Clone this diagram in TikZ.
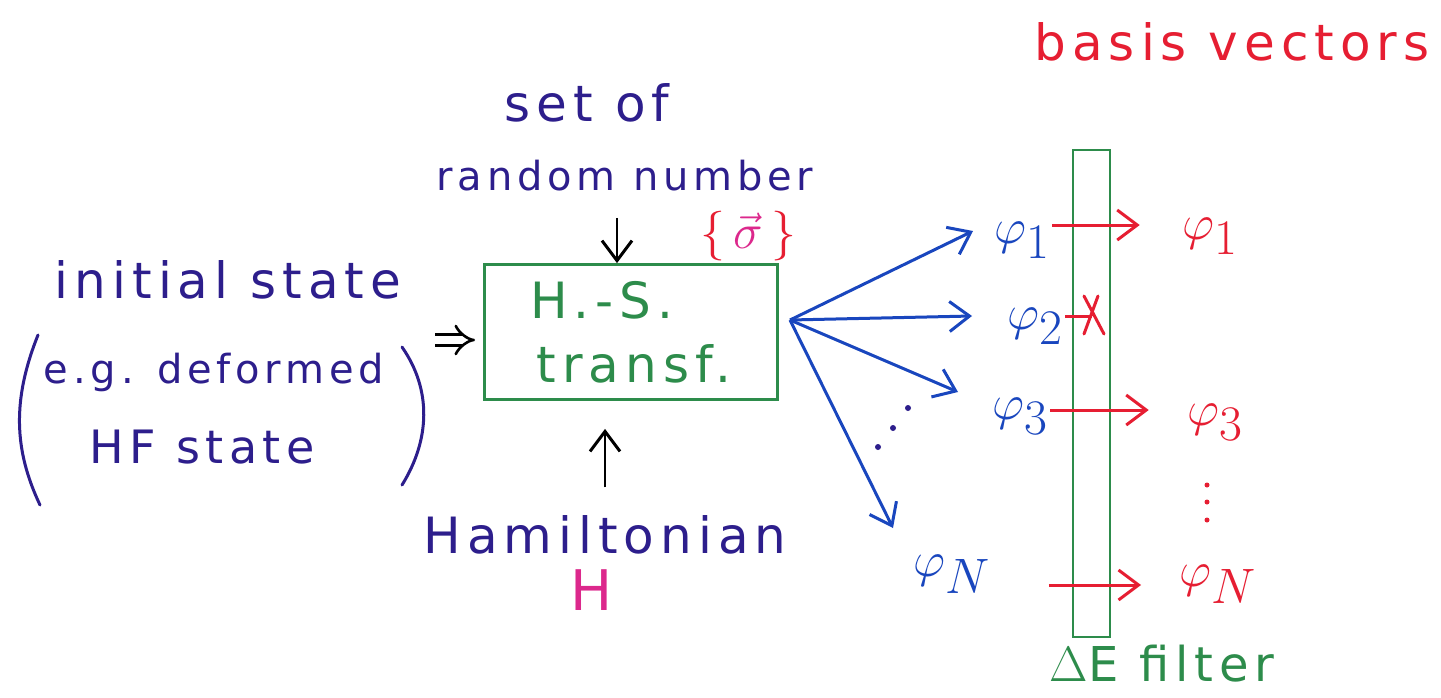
\documentclass[tikz,border=0pt]{standalone}
\usepackage{fontspec}
\setmainfont{DejaVu Sans}
\newfontfamily\hand[LetterSpace=12]{DejaVu Sans}
\usetikzlibrary{arrows.meta}
\definecolor{ink}{RGB}{45,30,140}
\definecolor{grn}{RGB}{45,140,75}
\definecolor{blu}{RGB}{25,70,190}
\definecolor{rd}{RGB}{230,30,50}
\definecolor{mag}{RGB}{220,40,140}
\begin{document}
\begin{tikzpicture}[x=0.5pt,y=-0.5pt,
  txt/.style={inner sep=0pt, text=ink, font=\hand\fontsize{25}{30}\selectfont},
  phi/.style={inner sep=1pt, font=\fontsize{36}{40}\selectfont},
  tip/.style={-{Straight Barb[length=10pt,width=15pt,line width=1.5pt]}},
  blkarr/.style={tip, line width=1.4pt, black},
  bluarr/.style={tip, line width=1.5pt, blu},
  redarr/.style={tip, line width=1.5pt, rd},
  gbox/.style={draw=grn, line width=1.4pt}]
\useasboundingbox (0,0) rectangle (1441,697);
\fill[white] (0,0) rectangle (1441,697);

% left text
\node[txt] (init) at (228,280) {initial state};
\node[txt, font=\hand\fontsize{20}{24}\selectfont] (eg) at (214,372) {e.g. deformed};
\node[txt, font=\hand\fontsize{23}{26}\selectfont] (hf) at (202,447) {HF state};
\draw[ink, line width=1.5pt, line cap=round] (38,335) .. controls (12,400) and (14,450) .. (40,505);
\draw[ink, line width=1.5pt, line cap=round] (402,347) .. controls (432,390) and (430,440) .. (402,485);

% top text
\node[txt] (setof) at (587,103) {set of};
\node[txt, font=\hand\fontsize{20}{24}\selectfont] (rn) at (625,176) {random number};
\node[inner sep=0pt, text=rd, font=\fontsize{28}{32}\selectfont] (sig) at (748,236) {$\{\,\textcolor{mag}{\vec\sigma}\,\}$};

% box
\node[gbox, minimum width=146.5pt, minimum height=67.5pt, align=left, text=grn,
      font=\hand\fontsize{25}{30}\selectfont, text depth=0pt] (hs) at (631,332)
      {H.-S.\\[2pt]\hspace*{3pt}transf.};

% bottom text
\node[txt] (ham) at (605,535) {Hamiltonian};
\node[inner sep=0pt, text=mag, font=\hand\fontsize{28}{30}\selectfont] (hH) at (592,590) {H};

% arrows into box
\coordinate (dstart) at (435,340);
\draw[double, double distance=4pt, line width=1.3pt, -{Implies[length=8pt]}, black] (dstart) -- ([xshift=-4pt]dstart -| hs.west);
\draw[blkarr] (rn.south -| 617,0) ++(0,26) -- (hs.north -| 617,0);
\draw[blkarr] (ham.north) ++(0,-28) -- ([yshift=-14pt]hs.south -| ham.north);

% fan of blue arrows
\coordinate (fan) at (790,320);
\coordinate (t1) at (973,231);
\coordinate (t2) at (972,316);
\coordinate (t3) at (958,392);
\coordinate (tN) at (893,528);
\draw[bluarr] (fan) -- (t1);
\draw[bluarr] (fan) -- (t2);
\draw[bluarr] (fan) -- (t3);
\draw[bluarr] (fan) -- (tN);
\fill[ink] (908,408) circle (3) (893,428) circle (3) (878,447) circle (3);

% blue phis
\node[phi, text=blu] (b1) at (1022,240) {$\varphi_1$};
\node[phi, text=blu] (b2) at (1035,326) {$\varphi_2$};
\node[phi, text=blu] (b3) at (1020,416) {$\varphi_3$};
\node[phi, text=blu] (bN) at (952,574) {$\varphi_N$};

% filter
\node[gbox, minimum width=18.5pt, minimum height=243.5pt, inner sep=0pt] (filt) at (1091.5,393.5) {};
\node[txt, text=grn, font=\hand\fontsize{24}{28}\selectfont] (flt) at (1162,664) {$\Delta$E filter};

% red phis
\node[phi, text=rd] (r1) at (1210,236) {$\varphi_1$};
\node[phi, text=rd] (r3) at (1215,422) {$\varphi_3$};
\node[phi, text=rd] (rN) at (1218,584) {$\varphi_N$};
\fill[rd] (1207,485) circle (2.5) (1207,502) circle (2.5) (1207,520) circle (2.5);

% red arrows through the filter
\draw[redarr] (b1.east |- 0,225) -- ([xshift=-20pt]r1.west |- 0,225);
\draw[redarr] (b3.east |- 0,410) -- ([xshift=-18pt]r3.west |- 0,410);
\draw[redarr] ([xshift=28pt]bN.east |- 0,585) -- ([xshift=-18pt]rN.west |- 0,585);
\coordinate (xm) at (1092,316);
\draw[rd, line width=1.5pt] (b2.east |- 0,316) -- (xm);
\draw[rd, line width=1.5pt, line cap=round] (1084,296) -- (1104,334) (1098,296) -- (1084,334);

% title
\node[txt, text=rd] (bv) at (1232,42) {basis vectors};
\end{tikzpicture}
\end{document}
